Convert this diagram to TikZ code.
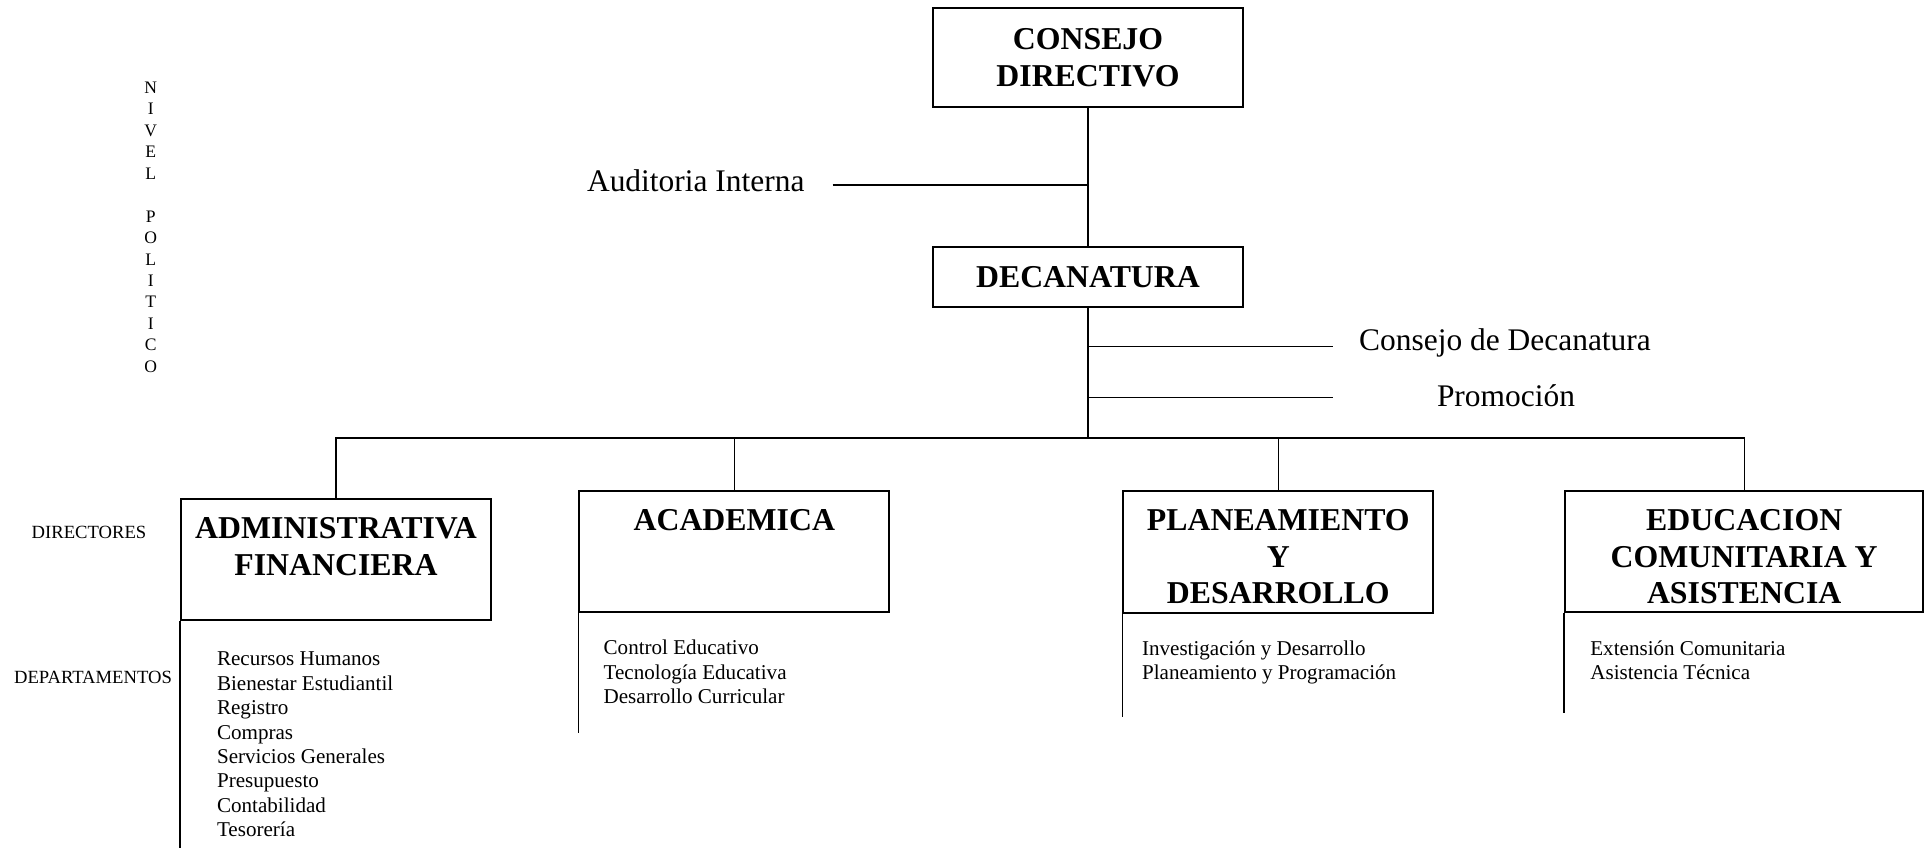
\documentclass[tikz,border=0pt]{standalone}
\usepackage{fontspec}
\setmainfont{Liberation Serif}
\usetikzlibrary{positioning}
\tikzset{
  unit/.style={draw, line width=1.1pt, rectangle, inner sep=0pt},
  bigtitle/.style={font=\fontsize{18.1}{20.9}\selectfont\bfseries, align=center},
  unittitle/.style={bigtitle, inner sep=0pt, anchor=north},
  link/.style={line width=0.75pt},
  leg/.style={line width=0.7pt},
  staff/.style={font=\fontsize{17.9}{21}\selectfont, inner sep=0pt, anchor=base},
  deptlist/.style={font=\fontsize{12}{13.9}\selectfont, align=left, inner sep=0pt, anchor=north west},
  levellabel/.style={font=\fontsize{10.6}{12.6}\selectfont, inner sep=0pt, anchor=base},
  nivel/.style={font=\fontsize{10}{12.2}\selectfont, align=center, inner sep=0pt, anchor=north}
}
\begin{document}
\begin{tikzpicture}[x=0.02cm,y=-0.02cm]
\useasboundingbox (0,0) rectangle (1931,848);
% top level
\node[unit, bigtitle, minimum width=6.21cm, minimum height=1.98cm] (cd) at (1088,57.8) {CONSEJO\\DIRECTIVO};
\node[unit, bigtitle, minimum width=6.21cm, minimum height=1.21cm] (dec) at (1088,277) {DECANATURA};
% staff units
\node[staff, anchor=base west] (aud) at (586.7,191.7) {Auditoria Interna};
\node[staff] (cdd) at (1505,350) {Consejo de Decanatura};
\node[staff] (pro) at (1506,406.7) {Promoción};
\coordinate (audend) at (832.7,185);
\coordinate (cddend) at (1333,346.7);
\coordinate (proend) at (1333,397.7);
\draw[link] (audend) -- (audend -| cd.south);
\draw[link] (cddend -| dec.south) -- (cddend);
\draw[link] (proend -| dec.south) -- (proend);
% directorates
\node[unit, minimum width=6.2cm, minimum height=2.42cm] (adm) at (336,559.5) {};
\node[unittitle, below=11pt of adm.north] (admt) {ADMINISTRATIVA\\FINANCIERA};
\node[unit, minimum width=6.2cm, minimum height=2.43cm] (aca) at (734.3,551.5) {};
\node[unittitle, below=11pt of aca.north] (acat) {ACADEMICA};
\node[unit, minimum width=6.2cm, minimum height=2.44cm] (pla) at (1278.3,551.7) {};
\node[unittitle, below=11pt of pla.north] (plat) {PLANEAMIENTO\\Y\\DESARROLLO};
\node[unit, minimum width=7.17cm, minimum height=2.42cm] (edu) at (1744.2,551.2) {};
\node[unittitle, below=11pt of edu.north] (edut) {EDUCACION\\COMUNITARIA Y\\ASISTENCIA};
% connectors
\draw[link] (cd.south) -- (dec.north);
\coordinate (bus) at (1088,438);
\draw[link] (dec.south) -- (bus);
\draw[link] (adm.north) |- (bus) -| (edu.north);
\draw[link] (aca.north) -- (aca.north |- bus);
\draw[link] (pla.north) -- (pla.north |- bus);
% departments
\node[deptlist] (admd) at (216.7,651.7) {Recursos Humanos\\Bienestar Estudiantil\\Registro\\Compras\\Servicios Generales\\Presupuesto\\Contabilidad\\Tesorería};
\node[deptlist] (acad) at (603.3,640) {Control Educativo\\Tecnología Educativa\\Desarrollo Curricular};
\node[deptlist] (plad) at (1141.7,640) {Investigación y Desarrollo\\Planeamiento y Programación};
\node[deptlist] (edud) at (1590,640) {Extensión Comunitaria\\Asistencia Técnica};
\coordinate (admfoot) at (180,848);
\coordinate (acafoot) at (579.3,733);
\coordinate (plafoot) at (1122.7,716.7);
\coordinate (edufoot) at (1564,713.3);
\draw[leg] (adm.south west) -- (adm.south west |- admfoot);
\draw[leg] (aca.south west) -- (aca.south west |- acafoot);
\draw[leg] (pla.south west) -- (pla.south west |- plafoot);
\draw[leg] (edu.south west) -- (edu.south west |- edufoot);
% levels
\node[nivel] (niv) at (150.7,81.7) {N\\I\\V\\E\\L\\[12.2pt]P\\O\\L\\I\\T\\I\\C\\O};
\node[levellabel] (dir) at (89,538) {DIRECTORES};
\node[levellabel] (dep) at (93,683) {DEPARTAMENTOS};
\end{tikzpicture}
\end{document}
